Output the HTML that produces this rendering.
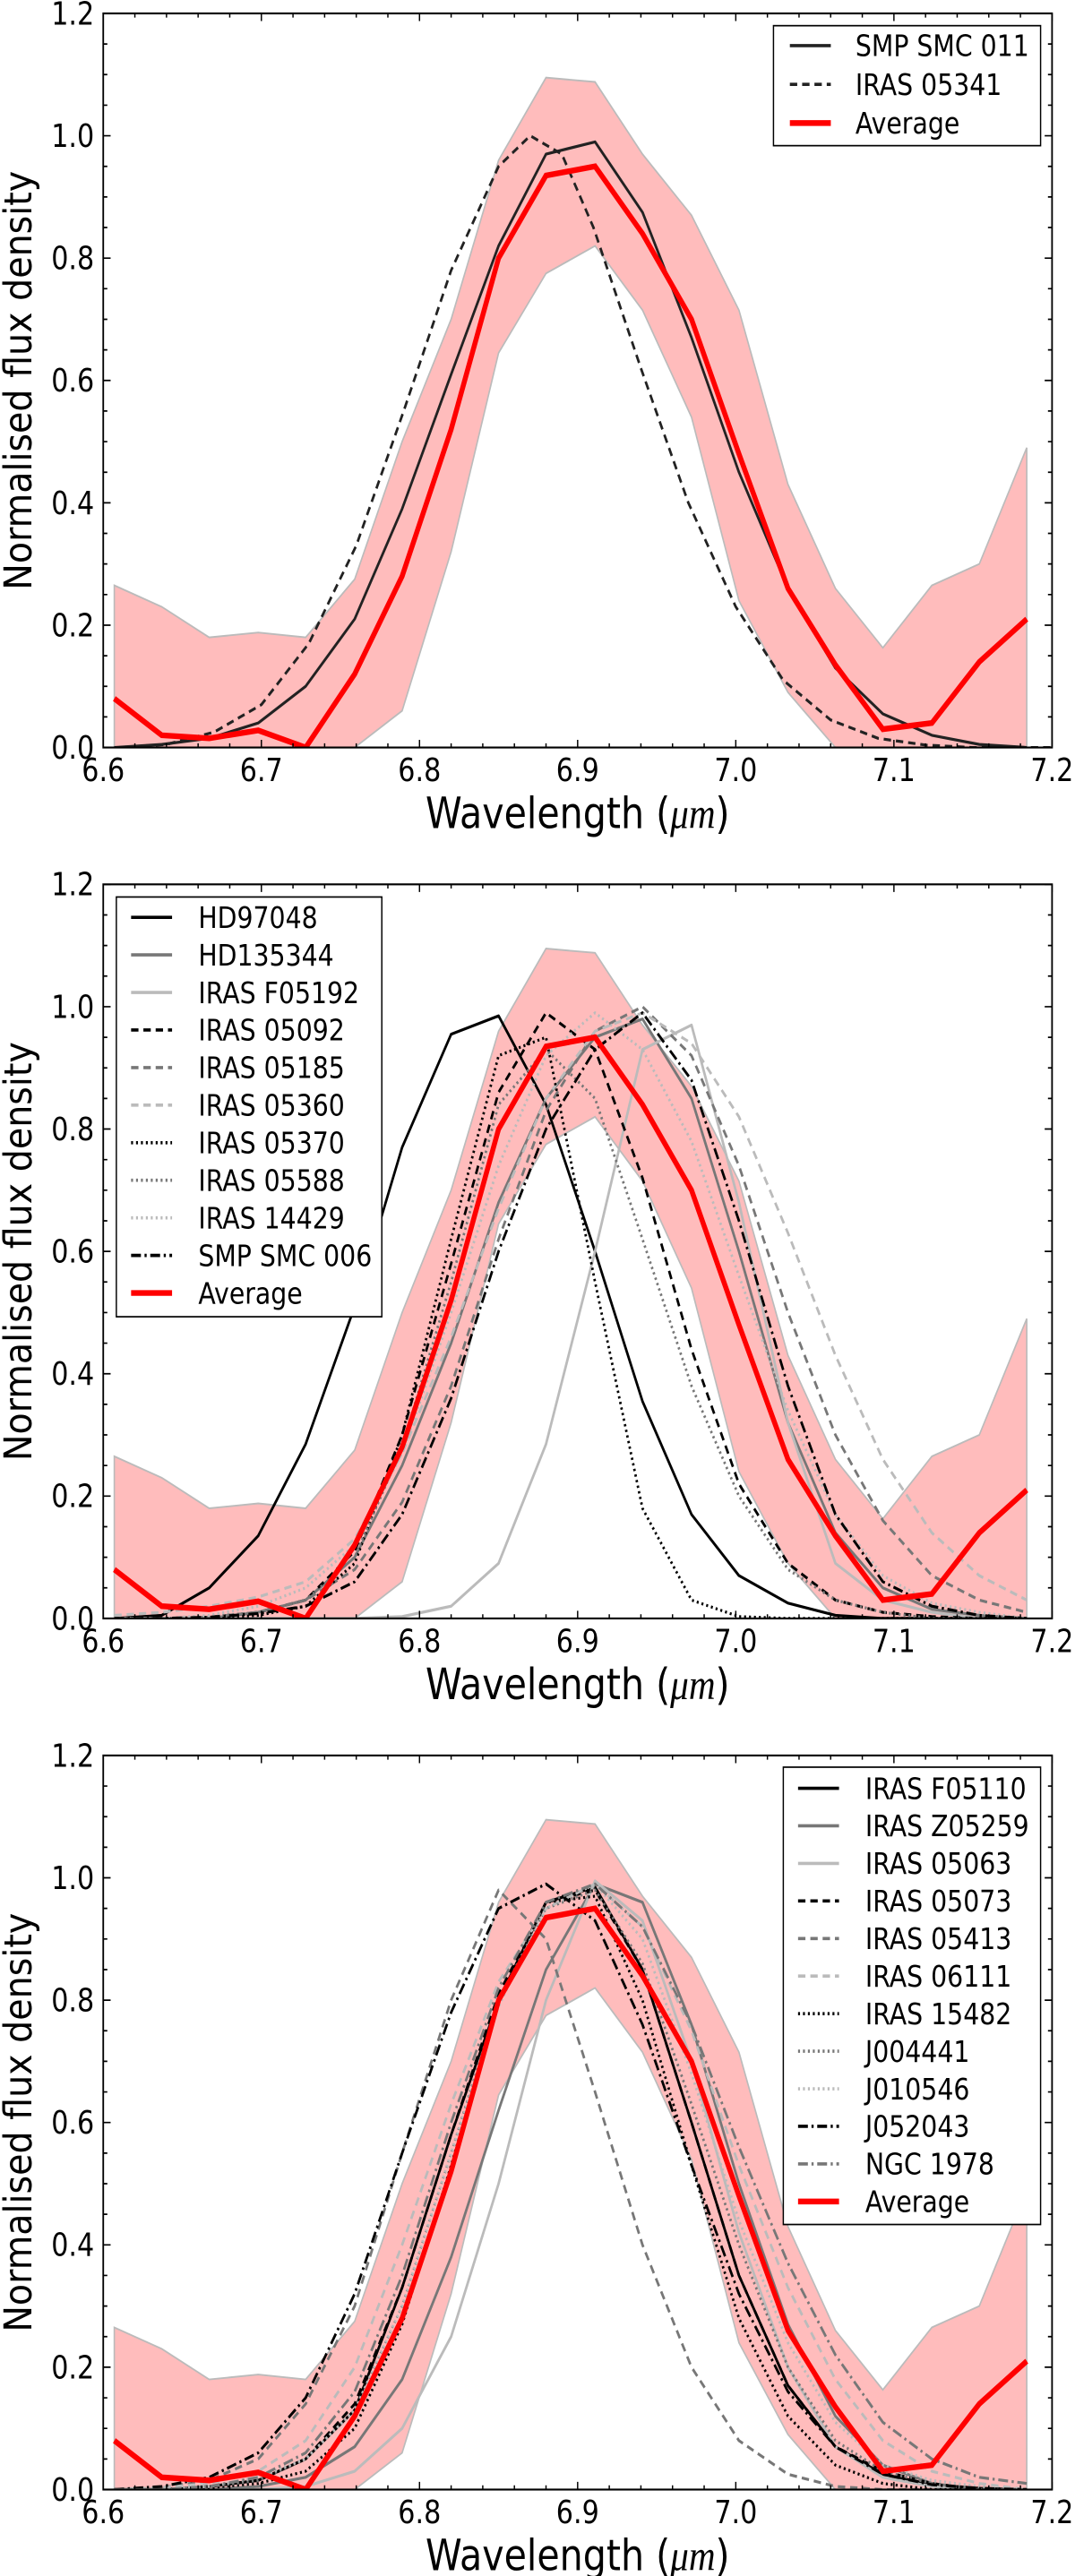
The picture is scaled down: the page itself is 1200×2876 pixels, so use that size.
<!DOCTYPE html>
<html><head><meta charset="utf-8"><style>
html,body{margin:0;padding:0;background:#fff;}
svg{display:block;}
text{font-family:"DejaVu Sans","Liberation Sans",sans-serif;fill:#000;}
</style></head><body>
<svg id="fig" width="1200" height="2876" viewBox="0 0 656 1344" preserveAspectRatio="none" xmlns="http://www.w3.org/2000/svg"></svg>
<script>
const xs = [6.607,6.637,6.667,6.698,6.728,6.759,6.789,6.820,6.850,6.880,6.911,6.941,6.972,7.002,7.033,7.063,7.093,7.124,7.154,7.184];
const avgVals = [0.08,0.02,0.015,0.028,0.0,0.12,0.28,0.52,0.80,0.935,0.95,0.84,0.70,0.48,0.26,0.135,0.03,0.04,0.14,0.21];
const bandUpper = [0.265,0.23,0.18,0.188,0.18,0.275,0.5,0.70,0.96,1.095,1.088,0.97,0.87,0.715,0.43,0.26,0.163,0.265,0.30,0.49];
const bandLower = [0,0,0,0,0,0,0.06,0.32,0.645,0.775,0.82,0.715,0.54,0.24,0.09,0.0,0,0,0,0];
const xTicks = [6.6,6.7,6.8,6.9,7.0,7.1,7.2];
const xTickLabels = ["6.6","6.7","6.8","6.9","7.0","7.1","7.2"];
const yTicks = [0,0.2,0.4,0.6,0.8,1.0,1.2];
const yTickLabels = ["0.0","0.2","0.4","0.6","0.8","1.0","1.2"];

// panel 1
const p1Names = ["SMP SMC 011","IRAS 05341"];
const p1Smp011 = [0,0.005,0.015,0.04,0.10,0.21,0.39,0.61,0.82,0.97,0.99,0.875,0.67,0.45,0.26,0.13,0.055,0.02,0.005,0];
const p1Xs05341 = [6.61,6.64,6.67,6.70,6.73,6.76,6.79,6.82,6.85,6.87,6.89,6.91,6.94,6.97,7.00,7.03,7.06,7.09,7.12,7.15,7.2];
const p1Iras05341 = [0,0.005,0.025,0.07,0.17,0.33,0.55,0.78,0.95,1.0,0.97,0.85,0.62,0.40,0.23,0.11,0.045,0.015,0.004,0,0];

// panel 2
const p2Names = ["HD97048","HD135344","IRAS F05192","IRAS 05092","IRAS 05185","IRAS 05360","IRAS 05370","IRAS 05588","IRAS 14429","SMP SMC 006"];
const p2HD97048 = [0,0.005,0.05,0.135,0.285,0.51,0.77,0.955,0.985,0.84,0.6,0.355,0.17,0.07,0.025,0.005,0,0,0,0];
const p2HD135344 = [0,0,0,0.01,0.03,0.1,0.25,0.45,0.68,0.85,0.95,0.98,0.85,0.6,0.32,0.14,0.05,0.015,0.005,0];
const p2F05192 = [0,0,0,0,0,0,0.003,0.02,0.09,0.285,0.6,0.93,0.97,0.68,0.32,0.09,0.03,0.01,0,0];
const p2I05092 = [0,0,0.002,0.01,0.03,0.11,0.3,0.58,0.86,0.99,0.93,0.72,0.44,0.22,0.09,0.03,0.01,0.003,0,0];
const p2I05185 = [0,0,0.002,0.01,0.03,0.08,0.19,0.38,0.62,0.83,0.96,1.0,0.92,0.74,0.5,0.3,0.16,0.07,0.03,0.01];
const p2I05360 = [0.005,0.01,0.02,0.035,0.06,0.13,0.27,0.46,0.67,0.85,0.96,0.99,0.94,0.82,0.63,0.43,0.26,0.14,0.07,0.03];
const p2I05370 = [0,0,0,0.005,0.02,0.09,0.3,0.62,0.92,0.95,0.55,0.18,0.03,0.003,0,0,0,0,0,0];
const p2I05588 = [0,0,0.003,0.01,0.03,0.1,0.28,0.55,0.84,0.93,0.85,0.62,0.38,0.2,0.08,0.03,0.01,0,0,0];
const p2I14429 = [0,0,0.005,0.02,0.05,0.12,0.27,0.5,0.74,0.92,0.99,0.93,0.78,0.56,0.34,0.17,0.07,0.025,0.01,0];
const p2S006 = [0,0,0.002,0.008,0.02,0.06,0.17,0.36,0.6,0.8,0.93,0.99,0.88,0.65,0.38,0.17,0.06,0.02,0.005,0];

// panel 3
const p3Names = ["IRAS F05110","IRAS Z05259","IRAS 05063","IRAS 05073","IRAS 05413","IRAS 06111","IRAS 15482","J004441","J010546","J052043","NGC 1978"];
const p3F05110 = [0,0,0.005,0.015,0.05,0.13,0.33,0.58,0.8,0.96,0.985,0.85,0.6,0.35,0.17,0.07,0.025,0.008,0.002,0];
const p3Z05259 = [0,0,0,0.005,0.02,0.07,0.18,0.38,0.62,0.85,0.99,0.96,0.76,0.5,0.27,0.12,0.04,0.01,0,0];
const p3I05063 = [0,0,0,0,0.005,0.03,0.1,0.25,0.5,0.8,0.995,0.93,0.7,0.42,0.2,0.07,0.02,0.005,0,0];
const p3I05073 = [0,0,0.005,0.015,0.05,0.14,0.33,0.58,0.81,0.96,0.98,0.85,0.6,0.35,0.17,0.07,0.03,0.01,0,0];
const p3I05413 = [0,0.003,0.015,0.05,0.14,0.3,0.55,0.8,0.98,0.9,0.65,0.4,0.2,0.08,0.025,0.005,0,0,0,0];
const p3I06111 = [0,0.003,0.01,0.03,0.08,0.2,0.4,0.63,0.83,0.95,0.99,0.92,0.75,0.53,0.33,0.18,0.08,0.03,0.01,0];
const p3I15482 = [0,0,0.003,0.01,0.03,0.1,0.27,0.53,0.8,0.96,0.97,0.8,0.53,0.28,0.12,0.04,0.01,0,0,0];
const p3J004441 = [0,0,0.005,0.015,0.05,0.13,0.3,0.55,0.8,0.95,0.98,0.86,0.63,0.4,0.2,0.08,0.03,0.01,0,0];
const p3J010546 = [0,0,0.005,0.02,0.05,0.13,0.3,0.55,0.79,0.95,0.99,0.9,0.68,0.44,0.24,0.11,0.04,0.015,0.005,0];
const p3J052043 = [0,0.005,0.02,0.06,0.15,0.32,0.55,0.78,0.95,0.99,0.93,0.76,0.53,0.32,0.16,0.07,0.025,0.008,0.002,0];
const p3NGC1978 = [0,0,0.005,0.02,0.06,0.16,0.35,0.6,0.82,0.96,0.99,0.92,0.76,0.56,0.37,0.22,0.11,0.05,0.02,0.01];

const NS = "http://www.w3.org/2000/svg";
const fig = document.getElementById("fig");
const L = 63, R = 642, H = 383;
const DASH = {solid:"", dashed:"4.5,3", dotted:"1.2,1.8", dashdot:"6,2.2,1.3,2.2"};

function mk(tag, parent, attrs){
  const e = document.createElementNS(NS, tag);
  for (const k in attrs) e.setAttribute(k, attrs[k]);
  parent.appendChild(e);
  return e;
}

function drawPanel(idx, top, series, legend){
  const xS = v => L + (v - 6.6) / 0.6 * (R - L);
  const yS = v => top + H - v / 1.2 * H;
  const g = mk("g", fig, {});
  
  

  let d = "";
  xs.forEach((x,i)=>{ d += (i? "L":"M") + xS(x).toFixed(2) + "," + yS(bandUpper[i]).toFixed(2); });
  for (let i = xs.length-1; i >= 0; i--) d += "L" + xS(xs[i]).toFixed(2) + "," + yS(bandLower[i]).toFixed(2);
  d += "Z";
  const band = mk("path", g, {d:d, fill:"#ffbcbc", stroke:"#bbbbbb", "stroke-width":"0.9"});
  
  

  const cp = mk("clipPath", g, {id:"clip"+idx});
  mk("rect", cp, {x:L, y:top, width:R-L, height:H});

  series.forEach(s=>{
    const sx = s.x || xs;
    let pd = "";
    sx.forEach((x,i)=>{ pd += (i? "L":"M") + xS(x).toFixed(2) + "," + yS(s.v[i]).toFixed(2); });
    const p = mk("path", g, {d:pd, fill:"none", stroke:s.c, "stroke-width":s.w||1.5, "stroke-dasharray":DASH[s.st], "clip-path":"url(#clip"+idx+")", "stroke-linejoin":"round"});
    
    
  });
  let ad = "";
  xs.forEach((x,i)=>{ ad += (i? "L":"M") + xS(x).toFixed(2) + "," + yS(avgVals[i]).toFixed(2); });
  const avg = mk("path", g, {d:ad, fill:"none", stroke:"#ff0000", "stroke-width":"3", "clip-path":"url(#clip"+idx+")", "stroke-linejoin":"miter"});
  
  

  const fr = mk("rect", g, {x:L, y:top, width:R-L, height:H, fill:"none", stroke:"#000", "stroke-width":"1"});
  
  

  let td = "";
  for (let k = 0; k <= 30; k++){
    const x = xS(6.6 + k*0.02); const len = (k % 5 === 0) ? 4 : 2.2;
    td += "M"+x+","+(top+H)+"v"+(-len)+"M"+x+","+top+"v"+len;
  }
  for (let k = 0; k <= 24; k++){
    const y = yS(k*0.05); const len = (k % 4 === 0) ? 4.5 : 2.5;
    td += "M"+L+","+y+"h"+len+"M"+R+","+y+"h"+(-len);
  }
  const ticks = mk("path", g, {d:td, stroke:"#000", "stroke-width":"0.8", fill:"none"});
  
  

  xTicks.forEach((v,i)=>{
    const t = mk("text", g, {x:xS(v), y:top+H+17.5, "font-size":"16.5", "text-anchor":"middle"});
    t.textContent = xTickLabels[i];
    
    
  });
  yTicks.forEach((v,i)=>{
    const t = mk("text", g, {x:57.5, y:yS(v)+5.8, "font-size":"16.5", "text-anchor":"end"});
    t.textContent = yTickLabels[i];
    
    
  });
  const xl = mk("text", g, {x:(L+R)/2, y:top+H+42, "font-size":"22.5", "text-anchor":"middle"});
  xl.innerHTML = 'Wavelength (<tspan font-family="Liberation Serif, serif" font-style="italic">μm</tspan>)';
  
  
  const yl = mk("text", g, {transform:"translate(19,"+(top+H/2)+") rotate(-90) scale(1,1.25)", "font-size":"18.5", "text-anchor":"middle"});
  yl.textContent = "Normalised flux density";
  
  

  const lg = mk("g", g, {});
  
  
  mk("rect", lg, {x:legend.x0, y:legend.y0, width:legend.x1-legend.x0, height:legend.y1-legend.y0, fill:"#fff", stroke:"#000", "stroke-width":"0.8"});
  const entries = series.map(s=>({n:s.n,c:s.c,st:s.st,w:s.w||1.7})).concat([{n:"Average",c:"#ff0000",st:"solid",w:3}]);
  entries.forEach((e,i)=>{
    const y = legend.r0 + i*legend.step;
    const row = mk("g", lg, {});
    
    
    mk("line", row, {x1:legend.lx, x2:legend.lx+25, y1:y, y2:y, stroke:e.c, "stroke-width":e.w, "stroke-dasharray":DASH[e.st]});
    const t = mk("text", row, {x:legend.tx, y:y+5.5, "font-size":"15.5"});
    t.textContent = e.n;
  });
}

drawPanel(1, 7, [
  {n:p1Names[0], v:p1Smp011, c:"#222", st:"solid"},
  {n:p1Names[1], x:p1Xs05341, v:p1Iras05341, c:"#222", st:"dashed"}
], {x0:472,x1:635,y0:13.4,y1:76,r0:23.8,step:20.2,lx:482,tx:522});

drawPanel(2, 461.4, [
  {n:p2Names[0], v:p2HD97048, c:"#000", st:"solid"},
  {n:p2Names[1], v:p2HD135344, c:"#777", st:"solid"},
  {n:p2Names[2], v:p2F05192, c:"#bbb", st:"solid"},
  {n:p2Names[3], v:p2I05092, c:"#000", st:"dashed"},
  {n:p2Names[4], v:p2I05185, c:"#777", st:"dashed"},
  {n:p2Names[5], v:p2I05360, c:"#bbb", st:"dashed"},
  {n:p2Names[6], v:p2I05370, c:"#000", st:"dotted"},
  {n:p2Names[7], v:p2I05588, c:"#777", st:"dotted"},
  {n:p2Names[8], v:p2I14429, c:"#bbb", st:"dotted"},
  {n:p2Names[9], v:p2S006, c:"#000", st:"dashdot"}
], {x0:71,x1:233,y0:468,y1:687,r0:478.6,step:19.6,lx:80,tx:121});

drawPanel(3, 915.9, [
  {n:p3Names[0], v:p3F05110, c:"#000", st:"solid"},
  {n:p3Names[1], v:p3Z05259, c:"#777", st:"solid"},
  {n:p3Names[2], v:p3I05063, c:"#bbb", st:"solid"},
  {n:p3Names[3], v:p3I05073, c:"#000", st:"dashed"},
  {n:p3Names[4], v:p3I05413, c:"#777", st:"dashed"},
  {n:p3Names[5], v:p3I06111, c:"#bbb", st:"dashed"},
  {n:p3Names[6], v:p3I15482, c:"#000", st:"dotted"},
  {n:p3Names[7], v:p3J004441, c:"#777", st:"dotted"},
  {n:p3Names[8], v:p3J010546, c:"#bbb", st:"dotted"},
  {n:p3Names[9], v:p3J052043, c:"#000", st:"dashdot"},
  {n:p3Names[10], v:p3NGC1978, c:"#777", st:"dashdot"}
], {x0:478,x1:635,y0:922,y1:1160.6,r0:933,step:19.6,lx:487,tx:528});
</script>
</body></html>
